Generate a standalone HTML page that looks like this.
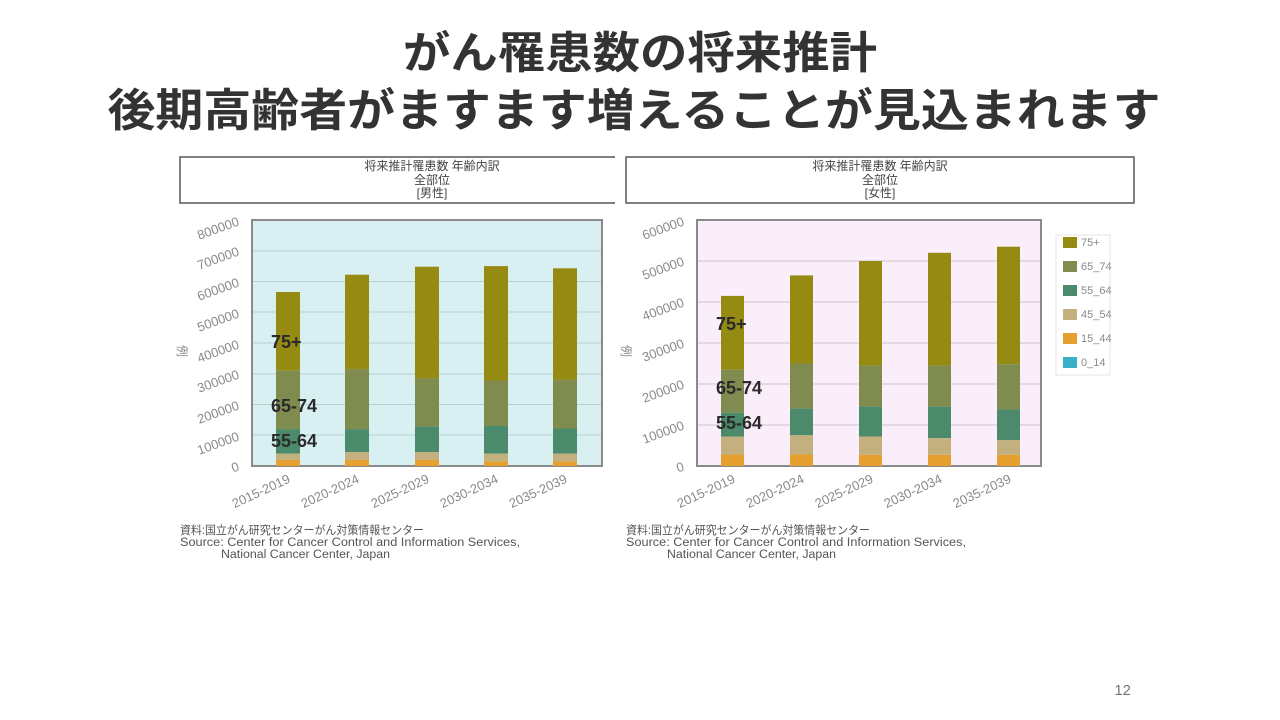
<!DOCTYPE html>
<html><head><meta charset="utf-8"><style>
html,body{margin:0;padding:0;background:#fff;width:1280px;height:720px;overflow:hidden}
svg{display:block}
.t{font-family:"Liberation Sans","Noto Sans CJK JP",sans-serif}
.tick{font-family:"Liberation Sans",sans-serif;font-size:13px;fill:#8a8a8a}
.lab{font-family:"Liberation Sans",sans-serif;font-size:18px;font-weight:bold;fill:#2a2a2a}
.src{font-family:"Liberation Sans","Noto Sans CJK JP",sans-serif;font-size:11.5px;fill:#555}
</style></head><body>
<svg width="1280" height="720" viewBox="0 0 1280 720">
<text class="t" x="640" y="68" text-anchor="middle" font-size="44" font-weight="bold" fill="#333" textLength="474" lengthAdjust="spacingAndGlyphs">がん罹患数の将来推計</text>
<text class="t" x="634" y="126" text-anchor="middle" font-size="45" font-weight="bold" fill="#333" textLength="1053" lengthAdjust="spacingAndGlyphs">後期高齢者がますます増えることが見込まれます</text>

<!-- LEFT CHART -->
<path d="M615 157 H180 V203 H615" fill="none" stroke="#555" stroke-width="1.5"/>
<g class="t" font-size="12" fill="#444" text-anchor="middle">
<text x="432" y="170">将来推計罹患数 年齢内訳</text><text x="432" y="184">全部位</text><text x="432" y="197">[男性]</text></g>
<rect x="252" y="220" width="350" height="246" fill="#d8f0f2" stroke="#8a8a8a" stroke-width="2"/>
<g stroke="#b9cfd2" stroke-width="1">
<line x1="253" x2="601" y1="251" y2="251"/><line x1="253" x2="601" y1="281.5" y2="281.5"/><line x1="253" x2="601" y1="312" y2="312"/><line x1="253" x2="601" y1="343" y2="343"/><line x1="253" x2="601" y1="374" y2="374"/><line x1="253" x2="601" y1="404.5" y2="404.5"/><line x1="253" x2="601" y1="435" y2="435"/></g>
<g class="tick" text-anchor="end">
<text transform="translate(240,470) rotate(-20)">0</text>
<text transform="translate(240,440) rotate(-20)">100000</text>
<text transform="translate(240,409) rotate(-20)">200000</text>
<text transform="translate(240,378) rotate(-20)">300000</text>
<text transform="translate(240,348) rotate(-20)">400000</text>
<text transform="translate(240,317) rotate(-20)">500000</text>
<text transform="translate(240,286) rotate(-20)">600000</text>
<text transform="translate(240,255) rotate(-20)">700000</text>
<text transform="translate(240,225) rotate(-20)">800000</text>
</g>
<text class="t" transform="translate(178,345) rotate(90)" font-size="12" fill="#888">例</text>
<g>
<rect x="276" y="292" width="24" height="78.7" fill="#958a12"/><rect x="276" y="370.7" width="24" height="58.4" fill="#7f8b4f"/><rect x="276" y="429.1" width="24" height="24.6" fill="#4b8a6a"/><rect x="276" y="453.7" width="24" height="6.2" fill="#c4b07f"/><rect x="276" y="459.9" width="24" height="6.1" fill="#e5a030"/>
<rect x="345" y="274.7" width="24" height="94.4" fill="#958a12"/><rect x="345" y="369.1" width="24" height="60" fill="#7f8b4f"/><rect x="345" y="429.1" width="24" height="23.1" fill="#4b8a6a"/><rect x="345" y="452.2" width="24" height="7.7" fill="#c4b07f"/><rect x="345" y="459.9" width="24" height="6.1" fill="#e5a030"/>
<rect x="415" y="266.7" width="24" height="111.7" fill="#958a12"/><rect x="415" y="378.4" width="24" height="48.2" fill="#7f8b4f"/><rect x="415" y="426.6" width="24" height="25.6" fill="#4b8a6a"/><rect x="415" y="452.2" width="24" height="7.7" fill="#c4b07f"/><rect x="415" y="459.9" width="24" height="6.1" fill="#e5a030"/>
<rect x="484" y="266.1" width="24" height="114.4" fill="#958a12"/><rect x="484" y="380.5" width="24" height="54.5" fill="#7f8b4f"/><rect x="484" y="426" width="24" height="27.7" fill="#4b8a6a"/><rect x="484" y="453.7" width="24" height="7.7" fill="#c4b07f"/><rect x="484" y="461.4" width="24" height="4.6" fill="#e5a030"/>
<rect x="553" y="268.3" width="24" height="111.6" fill="#958a12"/><rect x="553" y="379.9" width="24" height="48.6" fill="#7f8b4f"/><rect x="553" y="428.5" width="24" height="25.2" fill="#4b8a6a"/><rect x="553" y="453.7" width="24" height="7.7" fill="#c4b07f"/><rect x="553" y="461.4" width="24" height="4.6" fill="#e5a030"/>
</g>
<text class="lab" x="271" y="348">75+</text><text class="lab" x="271" y="412">65-74</text><text class="lab" x="271" y="447">55-64</text>
<g class="tick" text-anchor="end">
<text transform="translate(291,482) rotate(-25)">2015-2019</text>
<text transform="translate(360,482) rotate(-25)">2020-2024</text>
<text transform="translate(430,482) rotate(-25)">2025-2029</text>
<text transform="translate(499,482) rotate(-25)">2030-2034</text>
<text transform="translate(568,482) rotate(-25)">2035-2039</text>
</g>
<text class="src" x="180" y="534" textLength="244" lengthAdjust="spacingAndGlyphs">資料:国立がん研究センターがん対策情報センター</text>
<text class="src" x="180" y="546" textLength="340" lengthAdjust="spacingAndGlyphs">Source: Center for Cancer Control and Information Services,</text>
<text class="src" x="221" y="558" textLength="169" lengthAdjust="spacingAndGlyphs">National Cancer Center, Japan</text>

<!-- RIGHT CHART -->
<rect x="626" y="157" width="508" height="46" fill="#fff" stroke="#555" stroke-width="1.5"/>
<g class="t" font-size="12" fill="#444" text-anchor="middle">
<text x="880" y="170">将来推計罹患数 年齢内訳</text><text x="880" y="184">全部位</text><text x="880" y="197">[女性]</text></g>
<rect x="697" y="220" width="344" height="246" fill="#fbeefb" stroke="#8a8a8a" stroke-width="2"/>
<g stroke="#cfc3cf" stroke-width="1">
<line x1="698" x2="1040" y1="261" y2="261"/><line x1="698" x2="1040" y1="302" y2="302"/><line x1="698" x2="1040" y1="343" y2="343"/><line x1="698" x2="1040" y1="384" y2="384"/><line x1="698" x2="1040" y1="425" y2="425"/></g>
<g class="tick" text-anchor="end">
<text transform="translate(685,470) rotate(-20)">0</text>
<text transform="translate(685,429) rotate(-20)">100000</text>
<text transform="translate(685,388) rotate(-20)">200000</text>
<text transform="translate(685,347) rotate(-20)">300000</text>
<text transform="translate(685,306) rotate(-20)">400000</text>
<text transform="translate(685,265) rotate(-20)">500000</text>
<text transform="translate(685,225) rotate(-20)">600000</text>
</g>
<text class="t" transform="translate(622,345) rotate(90)" font-size="12" fill="#888">例</text>
<g>
<rect x="721" y="295.9" width="23" height="73.8" fill="#958a12"/><rect x="721" y="369.7" width="23" height="43" fill="#7f8b4f"/><rect x="721" y="412.7" width="23" height="23.8" fill="#4b8a6a"/><rect x="721" y="436.5" width="23" height="18" fill="#c4b07f"/><rect x="721" y="454.5" width="23" height="11.5" fill="#e5a030"/>
<rect x="790" y="275.4" width="23" height="88.1" fill="#958a12"/><rect x="790" y="363.5" width="23" height="45.1" fill="#7f8b4f"/><rect x="790" y="408.6" width="23" height="26.7" fill="#4b8a6a"/><rect x="790" y="435.3" width="23" height="19.2" fill="#c4b07f"/><rect x="790" y="454.5" width="23" height="11.5" fill="#e5a030"/>
<rect x="859" y="261" width="23" height="104.6" fill="#958a12"/><rect x="859" y="365.6" width="23" height="41" fill="#7f8b4f"/><rect x="859" y="406.6" width="23" height="29.9" fill="#4b8a6a"/><rect x="859" y="436.5" width="23" height="18.4" fill="#c4b07f"/><rect x="859" y="454.9" width="23" height="11.1" fill="#e5a030"/>
<rect x="928" y="252.8" width="23" height="112.8" fill="#958a12"/><rect x="928" y="365.6" width="23" height="41" fill="#7f8b4f"/><rect x="928" y="406.6" width="23" height="31.5" fill="#4b8a6a"/><rect x="928" y="438.1" width="23" height="16.8" fill="#c4b07f"/><rect x="928" y="454.9" width="23" height="11.1" fill="#e5a030"/>
<rect x="997" y="246.7" width="23" height="117.6" fill="#958a12"/><rect x="997" y="364.3" width="23" height="45.1" fill="#7f8b4f"/><rect x="997" y="409.4" width="23" height="30.8" fill="#4b8a6a"/><rect x="997" y="440.2" width="23" height="14.7" fill="#c4b07f"/><rect x="997" y="454.9" width="23" height="11.1" fill="#e5a030"/>
</g>
<text class="lab" x="716" y="330">75+</text><text class="lab" x="716" y="394">65-74</text><text class="lab" x="716" y="429">55-64</text>
<g class="tick" text-anchor="end">
<text transform="translate(736,482) rotate(-25)">2015-2019</text>
<text transform="translate(805,482) rotate(-25)">2020-2024</text>
<text transform="translate(874,482) rotate(-25)">2025-2029</text>
<text transform="translate(943,482) rotate(-25)">2030-2034</text>
<text transform="translate(1012,482) rotate(-25)">2035-2039</text>
</g>
<rect x="1056" y="235" width="54" height="140" fill="#fff" stroke="#e4e4e4"/>
<g class="tick" font-size="11" fill="#666">
<rect x="1063" y="237" width="14" height="11" fill="#958a12"/><text x="1081" y="246" font-size="11">75+</text>
<rect x="1063" y="261" width="14" height="11" fill="#7f8b4f"/><text x="1081" y="270" font-size="11">65_74</text>
<rect x="1063" y="285" width="14" height="11" fill="#4b8a6a"/><text x="1081" y="294" font-size="11">55_64</text>
<rect x="1063" y="309" width="14" height="11" fill="#c4b07f"/><text x="1081" y="318" font-size="11">45_54</text>
<rect x="1063" y="333" width="14" height="11" fill="#e5a030"/><text x="1081" y="342" font-size="11">15_44</text>
<rect x="1063" y="357" width="14" height="11" fill="#3ab0c8"/><text x="1081" y="366" font-size="11">0_14</text>
</g>
<text class="src" x="626" y="534" textLength="244" lengthAdjust="spacingAndGlyphs">資料:国立がん研究センターがん対策情報センター</text>
<text class="src" x="626" y="546" textLength="340" lengthAdjust="spacingAndGlyphs">Source: Center for Cancer Control and Information Services,</text>
<text class="src" x="667" y="558" textLength="169" lengthAdjust="spacingAndGlyphs">National Cancer Center, Japan</text>

<text class="t" x="1131" y="695" text-anchor="end" font-size="15" fill="#777">12</text>
</svg>
</body></html>
